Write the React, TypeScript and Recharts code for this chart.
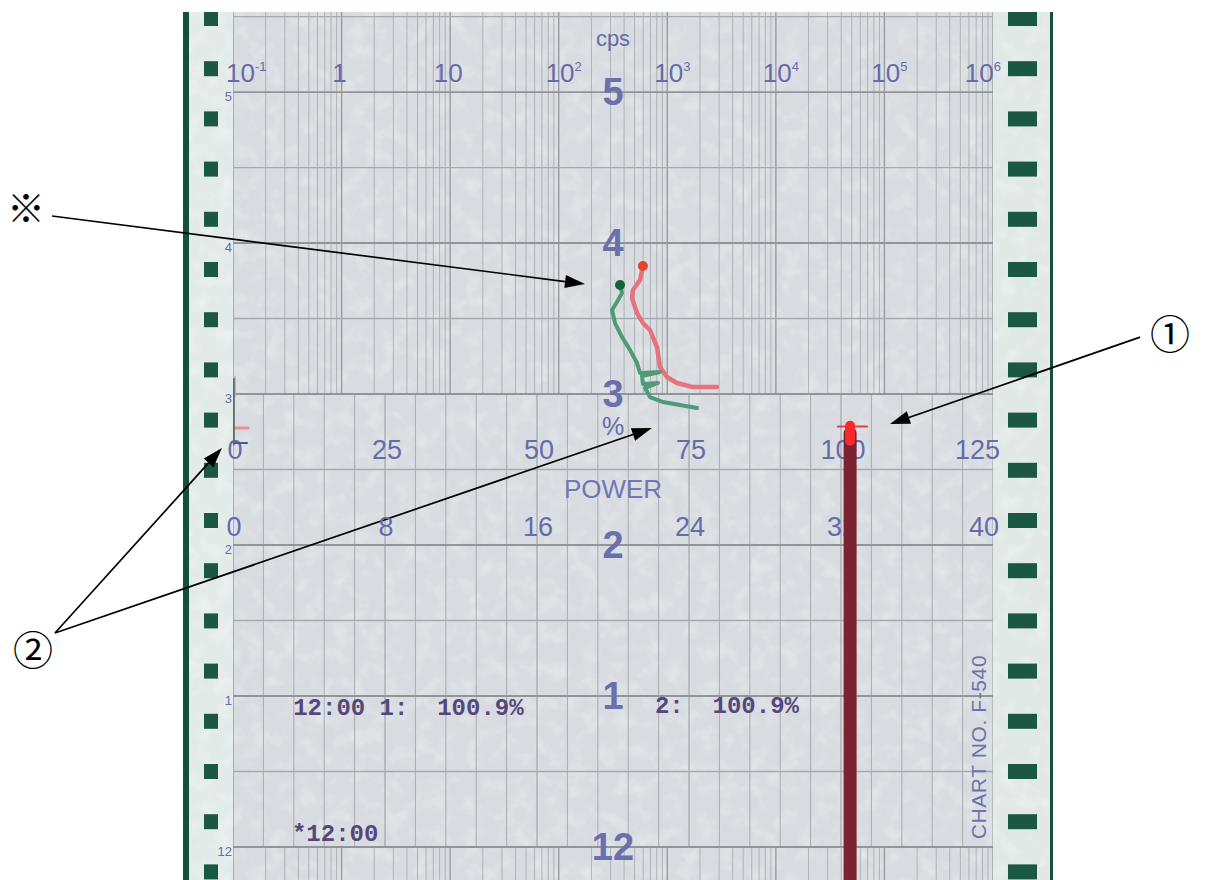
import React from "react";
import {
  ScatterChart,
  Scatter,
  XAxis,
  YAxis,
  ReferenceLine,
  ReferenceDot,
} from "recharts";

// scales printed on the recorder paper
const cpsTicks = [0.1, 1, 10, 100, 1000, 10000, 100000, 1000000];
const cpsBases = ["10", "1", "10", "10", "10", "10", "10", "10"];
const cpsExps = ["-1", "", "", "2", "3", "4", "5", "6"];
const powerTicks = [0, 25, 50, 75, 100, 125];
const rangeTicks = [0, 8, 16, 24, 32, 40];
const hourTicks = [0, 1, 2, 3, 4, 5];
const hourLabels = ["12", "1", "2", "3", "4", "5"];

// pen traces, t = hours after 12:00
const redTrace = [
  { cps: 597, t: 3.848 },
  { cps: 561, t: 3.755 },
  { cps: 483, t: 3.689 },
  { cps: 473, t: 3.636 },
  { cps: 526, t: 3.536 },
  { cps: 597, t: 3.47 },
  { cps: 693, t: 3.424 },
  { cps: 804, t: 3.311 },
  { cps: 857, t: 3.179 },
  { cps: 994, t: 3.113 },
  { cps: 1230, t: 3.073 },
  { cps: 1727, t: 3.046 },
  { cps: 2870, t: 3.046 },
];
const greenTrace = [
  { cps: 367, t: 3.722 },
  { cps: 383, t: 3.669 },
  { cps: 344, t: 3.609 },
  { cps: 310, t: 3.556 },
  { cps: 330, t: 3.47 },
  { cps: 383, t: 3.377 },
  { cps: 454, t: 3.291 },
  { cps: 526, t: 3.205 },
  { cps: 561, t: 3.139 },
  { cps: 857, t: 3.146 },
  { cps: 585, t: 3.119 },
  { cps: 597, t: 3.066 },
  { cps: 822, t: 3.073 },
  { cps: 624, t: 3.04 },
  { cps: 693, t: 2.98 },
  { cps: 914, t: 2.947 },
  { cps: 1310, t: 2.927 },
  { cps: 1878, t: 2.907 },
];
const powerTrace = [
  { p: 101.5, t: 2.74 },
  { p: 101.5, t: -0.22 },
];
const powerStart = [
  { p: 101.5, t: 2.79 },
  { p: 101.5, t: 2.69 },
];
const powerStartTick = [
  { p: 99.5, t: 2.785 },
  { p: 104.3, t: 2.785 },
];
const zeroTrace = [
  { p: 0.15, t: 3.1 },
  { p: 0.15, t: 2.665 },
];
const zeroRed = [
  { p: 0.15, t: 3.11 },
  { p: 0.15, t: 2.99 },
];
const zeroRedTick = [
  { p: -1.0, t: 2.775 },
  { p: 2.5, t: 2.775 },
];
const zeroTick = [
  { p: 0.15, t: 2.675 },
  { p: 2.3, t: 2.675 },
];

const printLines = ["12:00 1:  100.9%", "2:  100.9%", "*12:00"];
const chartNo = "CHART NO. F-540";

const T_MIN = -0.2185;
const T_MAX = 5.53;
const CENTER = 62.5;
const CPS_ROW = 5.066;
const POWER_ROW = 2.57;
const RANGE_ROW = 2.06;

const SANS = "'Liberation Sans', Arial, sans-serif";
const MONO = "'Liberation Mono', 'Courier New', monospace";
const CJK = "'Noto Sans CJK JP', sans-serif";
const INK = "#666bab";
const PRINT = "#55477c";

const logLines: number[] = [];
for (let d = -1; d < 6; d++) {
  for (let k = 1; k < 10; k++) logLines.push(k * Math.pow(10, d));
}
logLines.push(1e6);
const linLines: number[] = [];
for (let v = 0; v <= 125; v += 5) linLines.push(v);
const halfHours: number[] = [];
for (let h = 0.5; h < T_MAX; h += 1) halfHours.push(h);

const NoDot = () => <g />;

function trace(key: string, data: any[], xId: string, color: string, width: number) {
  return (
    <Scatter
      key={key}
      data={data}
      xAxisId={xId}
      yAxisId="t"
      fill={color}
      line={{ stroke: color, strokeWidth: width, strokeLinecap: "round", strokeLinejoin: "round" }}
      shape={NoDot}
      isAnimationActive={false}
    />
  );
}

const Arrow = (p: any) => {
  const { x1, y1, x2, y2 } = p;
  const a = Math.atan2(y2 - y1, x2 - x1);
  const L = 20;
  const W = 6.5;
  const bx = x2 - L * Math.cos(a);
  const by = y2 - L * Math.sin(a);
  const pts = `${x2},${y2} ${bx + W * Math.sin(a)},${by - W * Math.cos(a)} ${bx - W * Math.sin(a)},${by + W * Math.cos(a)}`;
  return (
    <g>
      <line x1={x1} y1={y1} x2={bx} y2={by} stroke="#000" strokeWidth={1.7} />
      <polygon points={pts} fill="#000" />
    </g>
  );
};

function txt(
  key: string,
  xId: string,
  x: number,
  y: number,
  content: React.ReactNode,
  style: any,
  dx = 0,
  dy = 0,
  rotate = 0
) {
  return (
    <ReferenceDot
      key={key}
      xAxisId={xId}
      yAxisId="t"
      x={x}
      y={y}
      r={0}
      ifOverflow="visible"
      shape={(p: any) => (
        <text
          x={p.cx + dx}
          y={p.cy + dy}
          transform={rotate ? `rotate(${rotate} ${p.cx} ${p.cy})` : undefined}
          {...style}
        >
          {content}
        </text>
      )}
    />
  );
}

function arrow(key: string, from: [number, number], to: [number, number]) {
  return (
    <ReferenceLine
      key={key}
      xAxisId="pw"
      yAxisId="t"
      segment={[
        { x: from[0], y: from[1] },
        { x: to[0], y: to[1] },
      ]}
      ifOverflow="visible"
      shape={Arrow}
    />
  );
}

const holes: number[] = [];
for (let k = 0; k < 18; k++) holes.push(18.5 + 50.2 * k);

export default function App() {
  return (
    <div style={{ position: "absolute", left: 0, top: 0, width: 1213, height: 880, background: "#fff", overflow: "hidden" }}>
      {/* recorder paper */}
      <svg width={870} height={868} style={{ position: "absolute", left: 183, top: 12 }}>
        <filter id="paperNoise">
          <feTurbulence type="fractalNoise" baseFrequency="0.06" numOctaves={3} seed={7} />
          <feColorMatrix type="matrix" values="0 0 0 0 1  0 0 0 0 1  0 0 0 0 1  1.6 0 0 0 -0.75" />
        </filter>
        <rect width={870} height={868} fill="#d8dce0" />
        <rect x={6} width={44} height={868} fill="#e3ebe9" />
        <rect x={810} width={57} height={868} fill="#e1e9e7" />
        <rect width={870} height={868} filter="url(#paperNoise)" opacity={0.45} />
        <rect width={6} height={868} fill="#15503d" />
        <rect x={867} width={3} height={868} fill="#15503d" />
        {holes.map((c, i) => (
          <g key={i}>
            <rect x={21} y={c - 19.5} width={14} height={15} fill="#1b5843" />
            <rect x={825} y={c - 19.5} width={29} height={15} fill="#1b5843" />
          </g>
        ))}
      </svg>
      <div style={{ position: "absolute", left: 0, top: 0 }}>
        <ScatterChart width={1213} height={880} margin={{ top: 12, right: 220, bottom: 0, left: 233 }}>
          <XAxis xAxisId="pw" type="number" dataKey="p" domain={[0, 125]} allowDataOverflow hide />
          <XAxis xAxisId="cps" type="number" dataKey="cps" scale="log" domain={[0.1, 1e6]} allowDataOverflow hide />
          <YAxis yAxisId="t" type="number" dataKey="t" domain={[T_MIN, T_MAX]} allowDataOverflow hide />

          {/* log grid above 3 o'clock and below 12 o'clock */}
          {logLines.map((v, i) => (
            <ReferenceLine key={"lu" + i} xAxisId="cps" yAxisId="t" ifOverflow="hidden"
              segment={[{ x: v, y: 3 }, { x: v, y: T_MAX }]}
              stroke={i % 9 === 0 ? "#979ca0" : "#afb3b7"} strokeWidth={i % 9 === 0 ? 1.4 : 1} />
          ))}
          {logLines.map((v, i) => (
            <ReferenceLine key={"ll" + i} xAxisId="cps" yAxisId="t" ifOverflow="hidden"
              segment={[{ x: v, y: T_MIN }, { x: v, y: 0 }]}
              stroke={i % 9 === 0 ? "#979ca0" : "#afb3b7"} strokeWidth={i % 9 === 0 ? 1.4 : 1} />
          ))}
          {/* linear grid */}
          {linLines.map((v) => (
            <ReferenceLine key={"lin" + v} xAxisId="pw" yAxisId="t" ifOverflow="hidden"
              segment={[{ x: v, y: 0 }, { x: v, y: 3 }]}
              stroke={v % 25 === 0 ? "#9ca1a5" : "#acb0b4"} strokeWidth={v === 0 ? 1.6 : 1.1} />
          ))}
          {halfHours.map((h) => (
            <ReferenceLine key={"hh" + h} xAxisId="pw" yAxisId="t" y={h} ifOverflow="hidden" stroke="#a6aaae" strokeWidth={1.3} />
          ))}
          {hourTicks.map((h) => (
            <ReferenceLine key={"h" + h} xAxisId="pw" yAxisId="t" y={h} ifOverflow="hidden" stroke="#90959a" strokeWidth={1.8} />
          ))}

          {/* printed scale labels */}
          {txt("cpsTitle", "pw", CENTER, 5.305, "cps", { fontFamily: SANS, fontSize: 22, fill: INK, textAnchor: "middle" })}
          {cpsTicks.map((v, i) => {
            const last = i === cpsTicks.length - 1;
            const first = i === 0;
            const anchor = first ? "start" : last ? "end" : "middle";
            const dx = first ? -7 : last ? 8 : cpsExps[i] ? 5 : -2;
            return txt(
              "cps" + i,
              "cps",
              v,
              CPS_ROW,
              <>
                {cpsBases[i]}
                {cpsExps[i] ? (
                  <tspan fontSize={13} dy={-11}>
                    {cpsExps[i]}
                  </tspan>
                ) : null}
              </>,
              { fontFamily: SANS, fontSize: 26, fill: INK, textAnchor: anchor },
              dx
            );
          })}
          {powerTicks.map((v, i) =>
            txt("pw" + v, "pw", v, POWER_ROW, String(v),
              { fontFamily: SANS, fontSize: 27, fill: INK, textAnchor: i === powerTicks.length - 1 ? "end" : "middle" },
              i === powerTicks.length - 1 ? 7 : 2)
          )}
          {rangeTicks.map((v, i) =>
            txt("rg" + v, "pw", (v * 125) / 40, RANGE_ROW, String(v),
              { fontFamily: SANS, fontSize: 27, fill: INK, textAnchor: i === rangeTicks.length - 1 ? "end" : "middle" },
              i === rangeTicks.length - 1 ? 6 : 1)
          )}
          {txt("powerTitle", "pw", CENTER, 2.311, "POWER", { fontFamily: SANS, fontSize: 26, fill: "#7276b4", textAnchor: "middle" })}
          {txt("pct", "pw", CENTER, 2.728, "%", { fontFamily: SANS, fontSize: 25, fill: INK, textAnchor: "middle" })}
          {hourTicks.map((h, i) =>
            txt("hr" + h, "pw", CENTER, h, hourLabels[i],
              { fontFamily: SANS, fontSize: 38, fontWeight: 700, fill: "#6a6fae", textAnchor: "middle" }, 0, 13)
          )}
          {hourTicks.map((h, i) =>
            txt("hs" + h, "pw", 0, h, hourLabels[i],
              { fontFamily: SANS, fontSize: 13, fill: INK, textAnchor: "end" }, -1, 9)
          )}
          {txt("chartNo", "pw", 122.7, 0.662, chartNo, {
            fontFamily: SANS, fontSize: 21, fill: "#6c73ad", textAnchor: "middle", letterSpacing: 0.6,
          }, 0, 7, -90)}

          {/* printer output */}
          {txt("pl0", "pw", 9.9, 0.874, printLines[0], { fontFamily: MONO, fontSize: 24, fontWeight: 700, fill: PRINT, style: { whiteSpace: "pre" } })}
          {txt("pl1", "pw", 69.4, 0.887, printLines[1], { fontFamily: MONO, fontSize: 24, fontWeight: 700, fill: PRINT, style: { whiteSpace: "pre" } })}
          {txt("pl2", "pw", 9.7, 0.04, printLines[2], { fontFamily: MONO, fontSize: 24, fontWeight: 700, fill: PRINT, style: { whiteSpace: "pre" } })}

          {/* pen traces */}
          {trace("zeroRed", zeroRed, "pw", "#eaa1b2", 4)}
          {trace("zeroRedTick", zeroRedTick, "pw", "#ec8f9c", 3)}
          {trace("zero", zeroTrace, "pw", "#56706a", 1.8)}
          {trace("zeroTick", zeroTick, "pw", "#4d5b8c", 2)}
          {trace("power", powerTrace, "pw", "#7a2332", 13)}
          {trace("powerStartTick", powerStartTick, "pw", "#e0404a", 2)}
          {trace("powerStart", powerStart, "pw", "#f52b2b", 10)}
          {trace("red", redTrace, "cps", "#e7727d", 4.5)}
          {trace("green", greenTrace, "cps", "#4d9c76", 4)}
          <ReferenceDot xAxisId="cps" yAxisId="t" x={597} y={3.848} r={5} fill="#e0442c" stroke="none" ifOverflow="visible" />
          <ReferenceDot xAxisId="cps" yAxisId="t" x={367} y={3.722} r={5} fill="#17623c" stroke="none" ifOverflow="visible" />

          {/* annotations */}
          {arrow("a1", [-29.77, 4.179], [57.89, 3.728])}
          {arrow("a2", [149.2, 3.377], [108.06, 2.801])}
          {arrow("a3", [-29.28, 1.417], [-1.81, 2.642])}
          {arrow("a4", [-29.28, 1.417], [68.9, 2.775])}
          {txt("n0", "pw", -34.05, 4.225, "※", { fontFamily: CJK, fontSize: 38, fill: "#000", textAnchor: "middle" }, 0, 13)}
          {txt("n1", "pw", 154.1, 3.391, "①", { fontFamily: CJK, fontSize: 40, fill: "#000", textAnchor: "middle" }, 0, 14)}
          {txt("n2", "pw", -32.9, 1.298, "②", { fontFamily: CJK, fontSize: 40, fill: "#000", textAnchor: "middle" }, 0, 14)}
        </ScatterChart>
      </div>
    </div>
  );
}
